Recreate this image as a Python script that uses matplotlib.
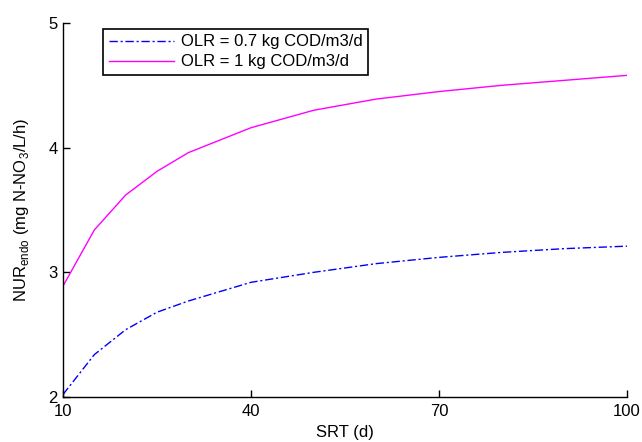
import matplotlib.pyplot as plt

plt.rcParams['font.family'] = ['Liberation Sans', 'DejaVu Sans']

srt = [10, 15, 20, 25, 30, 40, 50, 60, 70, 80, 90, 100]
nur_07 = [2.02, 2.34, 2.54, 2.68, 2.77, 2.92, 3.00, 3.07, 3.12, 3.16, 3.19, 3.21]
nur_1 = [2.89, 3.34, 3.62, 3.81, 3.96, 4.16, 4.30, 4.39, 4.45, 4.50, 4.54, 4.58]

labels = ['OLR = 0.7 kg COD/m3/d', 'OLR = 1 kg COD/m3/d']

fig = plt.figure(figsize=(6.42, 4.42), dpi=100)
ax = fig.add_axes([63/642, 45/442, 564/642, 374/442])

ax.plot(srt, nur_07, color='blue', lw=1, linestyle=(0, (6, 2, 1.5, 2)), label=labels[0])
ax.plot(srt, nur_1, color='magenta', lw=1, label=labels[1])

ax.set_xlim(10, 100)
ax.set_ylim(2, 5)
ax.set_xticks([10, 40, 70, 100])
ax.set_yticks([2, 3, 4, 5])
ax.tick_params(direction='in', length=5, width=1, labelsize=12, colors='black')
ax.tick_params(axis='x', pad=5)
ax.tick_params(axis='y', pad=4)
for s in ['top', 'right']:
    ax.spines[s].set_visible(False)
for s in ['left', 'bottom']:
    ax.spines[s].set_linewidth(1)

ax.set_xlabel('SRT (d)', fontsize=12, labelpad=4)
ax.set_ylabel('NUR$_{\\mathregular{endo}}$ (mg N-NO$_{\\mathregular{3}}$/L/h)', fontsize=12, labelpad=12)

leg = ax.legend(loc='upper left', bbox_to_anchor=(0.071, 0.985), fontsize=12,
                fancybox=False, edgecolor='black', framealpha=1,
                handlelength=3.9, handletextpad=0.4, borderpad=0.35, labelspacing=0.3,
                borderaxespad=0)
leg.get_frame().set_linewidth(1.2)

fig.savefig('out.png', dpi=100)
